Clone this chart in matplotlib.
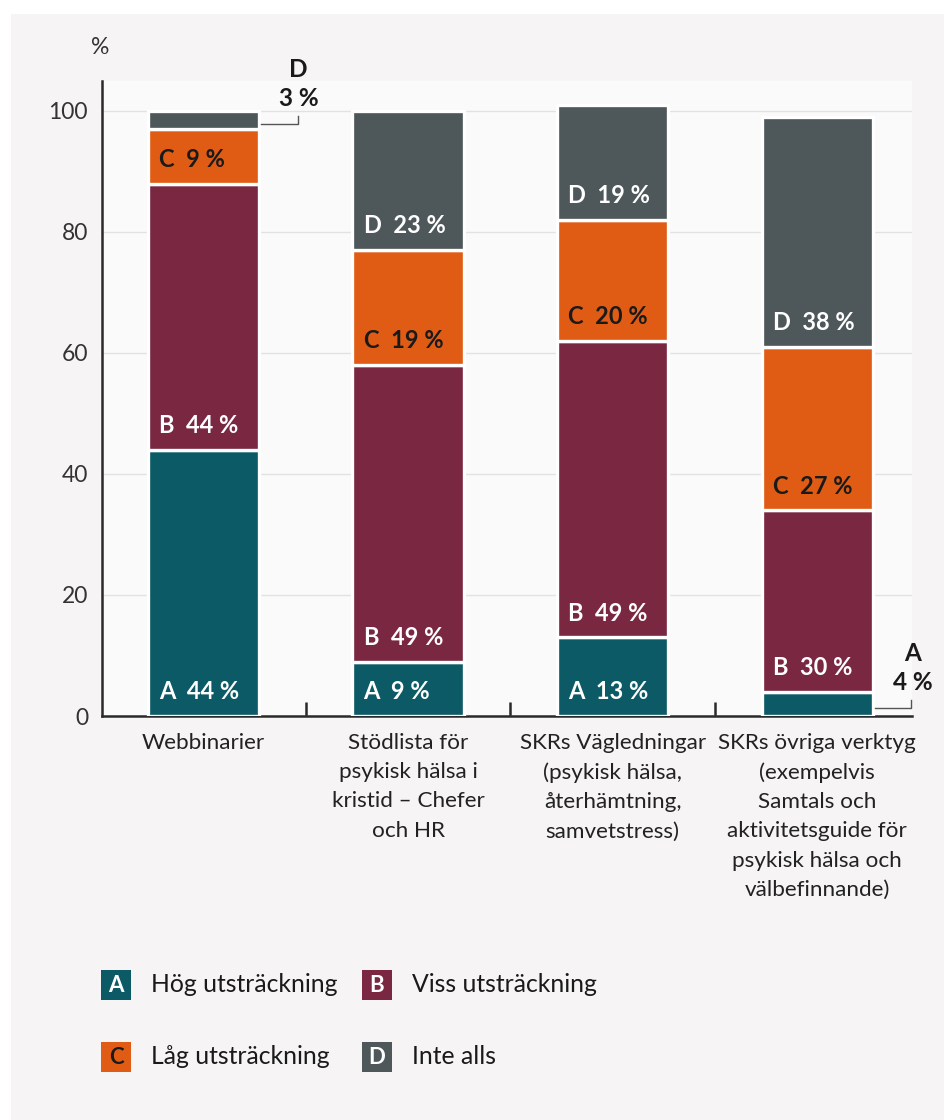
import matplotlib.pyplot as plt
from matplotlib.patches import Rectangle

categories = ['Webbinarier',
              'Stödlista för\npsykisk hälsa i\nkristid – Chefer\noch HR',
              'SKRs Vägledningar\n(psykisk hälsa,\nåterhämtning,\nsamvetstress)',
              'SKRs övriga verktyg\n(exempelvis\nSamtals och\naktivitetsguide för\npsykisk hälsa och\nvälbefinnande)']
letters = ['A', 'B', 'C', 'D']
names = ['Hög utsträckning', 'Viss utsträckning', 'Låg utsträckning', 'Inte alls']
hog = [44, 9, 13, 4]
viss = [44, 49, 49, 30]
lag = [9, 19, 20, 27]
inte = [3, 23, 19, 38]
yticks = [0, 20, 40, 60, 80, 100]

colors = ['#0c5a66', '#7a2841', '#e05c14', '#4e575a']
text_colors = ['white', 'white', '#1a1a1a', 'white']

plt.rcParams['font.family'] = ['Lato', 'DejaVu Sans']
fig = plt.figure(figsize=(9.44, 11.2), dpi=100, facecolor='white')
fig.patches.append(Rectangle((11 / 944, 0), 1, 1 - 14 / 1120, transform=fig.transFigure,
                             facecolor='#f6f4f5', edgecolor='none', zorder=-10))

ax = fig.add_axes([0.108, 0.3607, 0.858, 0.5673])
ax.set_facecolor('#fbfafb')
for s in ['top', 'right']:
    ax.spines[s].set_visible(False)
for s in ['left', 'bottom']:
    ax.spines[s].set_color('#2a2a2a')
    ax.spines[s].set_linewidth(1.8)

width = 0.545
x = range(len(categories))
series = [hog, viss, lag, inte]
bottoms = [0] * len(categories)
for k, vals in enumerate(series):
    ax.bar(x, vals, width, bottom=bottoms, color=colors[k], edgecolor='white',
           linewidth=2.4, zorder=3)
    for i, v in enumerate(vals):
        if v < 5:
            # small segments get a bracket callout to the right of the bar
            mid = bottoms[i] + v / 2
            cx = i + 0.46
            ax.plot([i + width / 2 + 0.01, cx, cx], [mid - 0.6, mid - 0.6, mid + 0.7],
                    color='#555555', lw=1, zorder=4, clip_on=False)
            ax.text(cx + 0.005, mid + 3.6, f'{v} %', ha='center', va='center',
                    fontsize=17.5, fontweight='bold', color='#1a1a1a')
            ax.text(cx + 0.005, mid + 8.4, letters[k], ha='center', va='center',
                    fontsize=17.5, fontweight='bold', color='#1a1a1a')
        else:
            ypos = bottoms[i] + min(4.0, v / 2)
            ax.text(i - width / 2 + 0.055, ypos, f'{letters[k]}  {v} %', ha='left', va='center',
                    fontsize=17, fontweight='bold', color=text_colors[k], zorder=5)
    bottoms = [b + v for b, v in zip(bottoms, vals)]

ax.set_xlim(-0.496, 3.462)
ax.set_ylim(0, 105)
ax.set_yticks(yticks)
ax.set_yticklabels([str(t) for t in yticks], fontsize=16.5, color='#333333')
ax.tick_params(axis='y', length=0, pad=10)
ax.grid(axis='y', color='#e2e2e2', lw=1, zorder=0)

ax.set_xticks([0.5, 1.5, 2.5])
ax.set_xticklabels([])
ax.tick_params(axis='x', which='major', direction='in', length=10, width=1.8, color='#2a2a2a')
ax.set_xticks(list(x), minor=True)
ax.set_xticklabels(categories, minor=True, fontsize=16.2, color='#222222', linespacing=1.58,
                   multialignment='center')
ax.tick_params(axis='x', which='minor', length=0, pad=12)

fig.text(100 / 944, 1 - 47 / 1120, '%', ha='center', va='center', fontsize=16.5, color='#333333')

# legend built from squares and labels
rows = [985, 1057]
cols = [101, 362]
for k in range(4):
    px = cols[k % 2]
    py = rows[k // 2]
    fig.patches.append(Rectangle((px / 944, 1 - (py + 15) / 1120), 30 / 944, 30 / 1120,
                                 transform=fig.transFigure, facecolor=colors[k],
                                 edgecolor='none', zorder=2))
    fig.text((px + 15) / 944, 1 - py / 1120, letters[k], ha='center', va='center',
             fontsize=16, fontweight='bold', color=text_colors[k], zorder=3)
    fig.text((px + 50) / 944, 1 - py / 1120, names[k], ha='left', va='center',
             fontsize=17.8, color='#1a1a1a')

fig.savefig('out.png', dpi=100, facecolor=fig.get_facecolor())
